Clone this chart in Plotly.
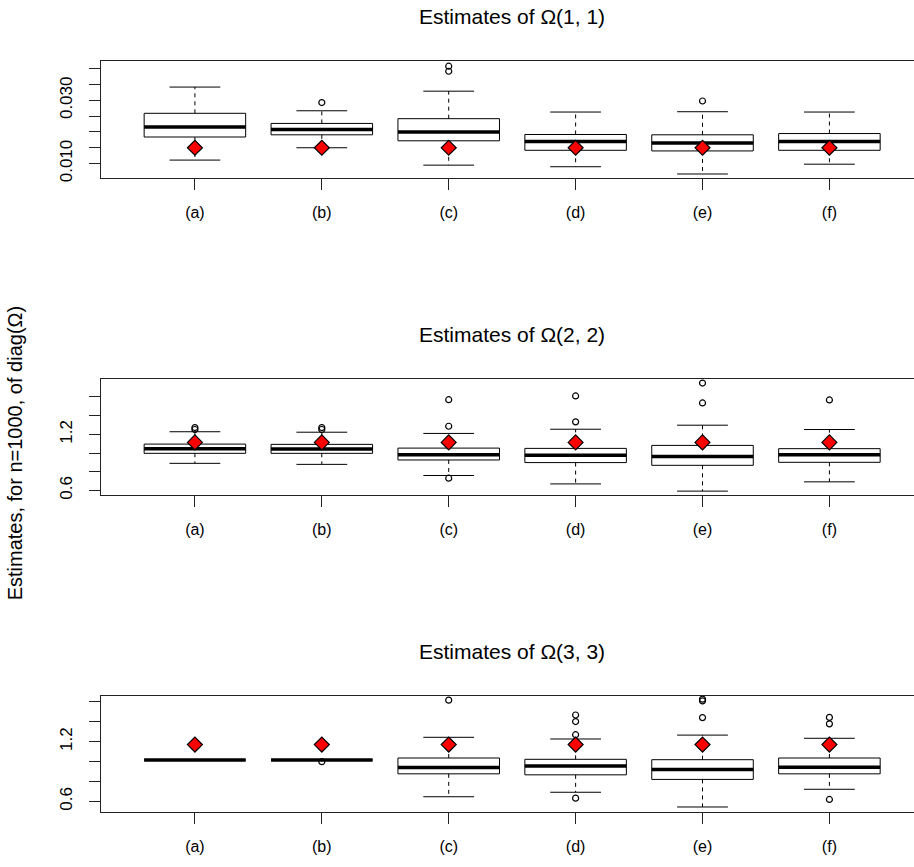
import plotly.graph_objects as go

# ---------------- data ----------------
groups = ["(a)", "(b)", "(c)", "(d)", "(e)", "(f)"]

titles = ["Estimates of Ω(1, 1)", "Estimates of Ω(2, 2)", "Estimates of Ω(3, 3)"]
y_title = "Estimates, for n=1000, of diag(Ω)"

p1_lower = [0.0111, 0.0150, 0.0095, 0.0090, 0.0067, 0.0098]
p1_q1 = [0.0184, 0.0191, 0.0172, 0.0142, 0.0140, 0.0142]
p1_med = [0.0216, 0.0208, 0.0200, 0.0170, 0.0165, 0.0170]
p1_q3 = [0.0259, 0.0227, 0.0242, 0.0192, 0.0191, 0.0195]
p1_upper = [0.0342, 0.0267, 0.0329, 0.0263, 0.0264, 0.0263]
p1_out = [[], [0.0293], [0.0408, 0.0392], [], [0.0298], []]
p1_true = 0.015

p2_lower = [0.890, 0.879, 0.760, 0.670, 0.593, 0.692]
p2_q1 = [0.997, 0.997, 0.926, 0.898, 0.869, 0.901]
p2_med = [1.047, 1.043, 0.983, 0.976, 0.962, 0.983]
p2_q3 = [1.096, 1.093, 1.053, 1.050, 1.082, 1.047]
p2_upper = [1.228, 1.223, 1.210, 1.255, 1.298, 1.252]
p2_out = [[1.273, 1.252], [1.273, 1.252], [1.571, 1.287, 0.731],
          [1.611, 1.334], [1.749, 1.536], [1.568]]
p2_true = 1.114

p3_lower = [1.016, 1.016, 0.647, 0.692, 0.544, 0.722]
p3_q1 = [1.016, 1.016, 0.877, 0.867, 0.821, 0.877]
p3_med = [1.016, 1.016, 0.940, 0.956, 0.920, 0.944]
p3_q3 = [1.016, 1.016, 1.036, 1.023, 1.019, 1.036]
p3_upper = [1.016, 1.016, 1.244, 1.227, 1.266, 1.234]
p3_out = [[], [0.999], [1.617], [1.468, 1.402, 1.270, 0.633],
          [1.627, 1.610, 1.442], [1.444, 1.379, 0.620]]
p3_true = 1.171

y1_ticks = [0.010, 0.015, 0.020, 0.025, 0.030, 0.035, 0.040]
y1_labels = ["0.010", "", "", "", "0.030", "", ""]
y23_ticks = [0.6, 0.8, 1.0, 1.2, 1.4, 1.6]
y23_labels = ["0.6", "", "", "1.2", "", ""]

panels = [
    dict(lower=p1_lower, q1=p1_q1, med=p1_med, q3=p1_q3, upper=p1_upper,
         out=p1_out, true=p1_true, yrange=[0.00535, 0.04233],
         ticks=y1_ticks, labels=y1_labels, dom=[0.7932, 0.9288]),
    dict(lower=p2_lower, q1=p2_q1, med=p2_med, q3=p2_q3, upper=p2_upper,
         out=p2_out, true=p2_true, yrange=[0.550, 1.7947],
         ticks=y23_ticks, labels=y23_labels, dom=[0.4256, 0.5606]),
    dict(lower=p3_lower, q1=p3_q1, med=p3_med, q3=p3_q3, upper=p3_upper,
         out=p3_out, true=p3_true, yrange=[0.498, 1.659],
         ticks=y23_ticks, labels=y23_labels, dom=[0.0585, 0.1926]),
]

FONT = "Liberation Sans, Arial, Helvetica, sans-serif"
BW = 0.4   # half box width
CW = 0.2   # half cap width
pos = list(range(1, len(groups) + 1))

fig = go.Figure()
layout = dict(
    width=914, height=867, margin=dict(l=0, r=0, t=0, b=0),
    paper_bgcolor="white", plot_bgcolor="white", showlegend=False,
    font=dict(family=FONT, color="black"),
)

for k, p in enumerate(panels):
    sfx = "" if k == 0 else str(k + 1)
    xa, ya = "x" + sfx, "y" + sfx
    bx, by, wx, wy, cx, cy, mx, my, ox, oy = [], [], [], [], [], [], [], [], [], []
    for i, xc in enumerate(pos):
        l, a, m, b, u = p["lower"][i], p["q1"][i], p["med"][i], p["q3"][i], p["upper"][i]
        bx += [xc - BW, xc + BW, xc + BW, xc - BW, xc - BW, None]
        by += [a, a, b, b, a, None]
        wx += [xc, xc, None, xc, xc, None]
        wy += [b, u, None, a, l, None]
        cx += [xc - CW, xc + CW, None, xc - CW, xc + CW, None]
        cy += [u, u, None, l, l, None]
        mx += [xc - BW, xc + BW, None]
        my += [m, m, None]
        for v in p["out"][i]:
            ox.append(xc)
            oy.append(v)
    line_kw = dict(mode="lines", xaxis=xa, yaxis=ya, hoverinfo="skip")
    fig.add_trace(go.Scatter(x=wx, y=wy, line=dict(color="black", width=1, dash="4px,4px"), **line_kw))
    fig.add_trace(go.Scatter(x=bx, y=by, line=dict(color="black", width=1), **line_kw))
    fig.add_trace(go.Scatter(x=cx, y=cy, line=dict(color="black", width=1), **line_kw))
    fig.add_trace(go.Scatter(x=mx, y=my, line=dict(color="black", width=3.5), **line_kw))
    fig.add_trace(go.Scatter(x=ox, y=oy, mode="markers", xaxis=xa, yaxis=ya,
                             marker=dict(symbol="circle-open", size=6, color="black",
                                         line=dict(width=1.2, color="black"))))
    fig.add_trace(go.Scatter(x=pos, y=[p["true"]] * len(pos), mode="markers",
                             xaxis=xa, yaxis=ya,
                             marker=dict(symbol="diamond", size=11.5, color="#ff0000",
                                         line=dict(width=1.2, color="black"))))

    layout["xaxis" + sfx] = dict(
        domain=[101 / 914, 1], anchor=ya, range=[0.26, 6.6666],
        tickmode="array", tickvals=pos, ticktext=groups,
        ticks="outside", ticklen=11, tickwidth=1, tickcolor="#222",
        showline=True, linecolor="#222", linewidth=1, mirror=True,
        showgrid=False, zeroline=False, ticklabelstandoff=9,
        tickfont=dict(size=16, family=FONT, color="black"),
    )
    layout["yaxis" + sfx] = dict(
        domain=p["dom"], anchor=xa, range=p["yrange"],
        tickmode="array", tickvals=p["ticks"], ticktext=p["labels"],
        ticks="outside", ticklen=11, tickwidth=1, tickcolor="#222",
        showline=True, linecolor="#222", linewidth=1, mirror=False,
        showgrid=False, zeroline=False, tickangle=-90, ticklabelstandoff=10,
        tickfont=dict(size=17, family=FONT, color="black"),
    )

ann = []
for k, t in enumerate(titles):
    ann.append(dict(text=t, xref="paper", yref="paper", x=512 / 914,
                    y=1 - (17 + 319.3 * k) / 867, xanchor="center", yanchor="middle",
                    showarrow=False, font=dict(size=21, family=FONT, color="black")))
ann.append(dict(text=y_title, xref="paper", yref="paper", x=15 / 914, y=1 - 456 / 867,
                xanchor="center", yanchor="middle", textangle=-90, showarrow=False,
                font=dict(size=20, family=FONT, color="black")))
layout["annotations"] = ann

fig.update_layout(**layout)
fig.write_html("out.html")
